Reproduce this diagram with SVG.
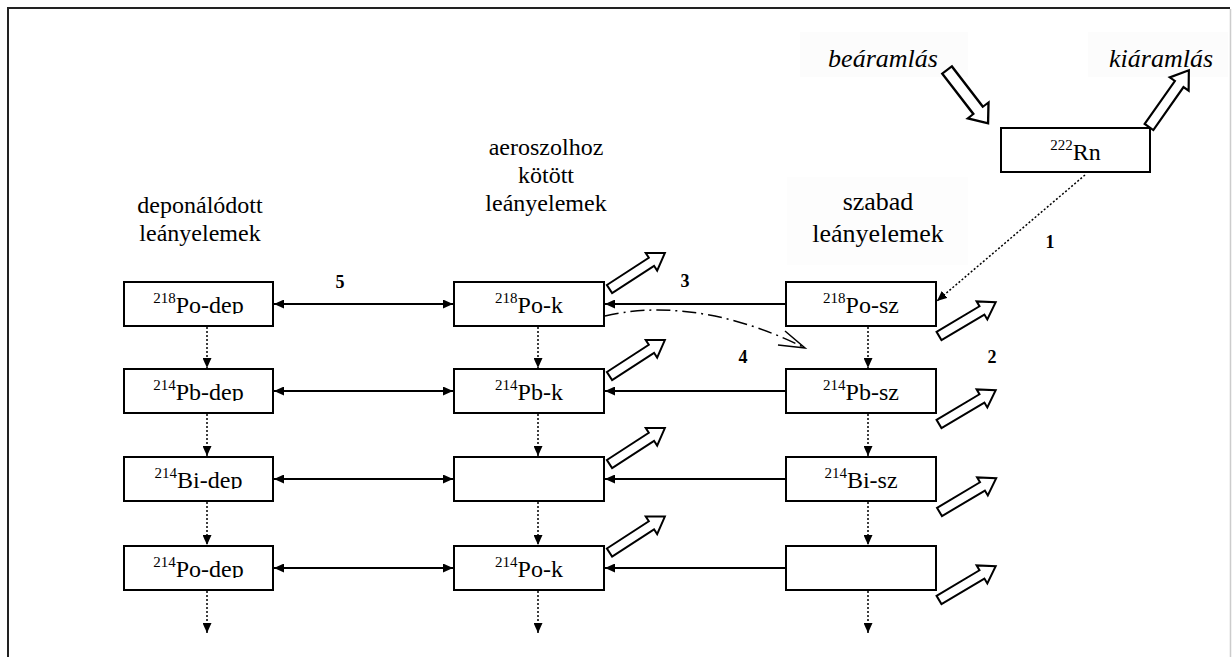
<svg xmlns="http://www.w3.org/2000/svg" width="1232" height="657" viewBox="0 0 1232 657">
<style>
  text{font-family:'Liberation Serif','Times New Roman',Times,serif}
  .box{fill:#fff;stroke:#000;stroke-width:2}
  .t{font-size:24px;fill:#000;text-anchor:middle}
  .sup{font-size:15px}
  .hdr{font-size:24px;fill:#000;text-anchor:middle}
  .it{font-size:26px;font-style:italic;fill:#000;text-anchor:middle}
  .num{font-size:18px;font-weight:bold;fill:#000;text-anchor:middle}
  .h{stroke:#000;stroke-width:2;fill:none}
  .v{stroke:#000;stroke-width:1.5;stroke-dasharray:2,2;fill:none}
  .blk{fill:#fff;stroke:#000;stroke-width:2;stroke-linejoin:miter}
</style>
<defs>
  <marker id="ah" viewBox="0 0 10 9" refX="10" refY="4.5" markerWidth="10" markerHeight="9" markerUnits="userSpaceOnUse" orient="auto-start-reverse">
    <path d="M0,0 L10,4.5 L0,9 Z" fill="#000"/>
  </marker>
  <path id="blk" d="M0,-4.8 L50,-4.8 L50,-10.5 L66,0 L50,10.5 L50,4.8 L0,4.8 Z"/>
  <clipPath id="c1"><rect x="124" y="282" width="149" height="32"/></clipPath>
  <clipPath id="c2"><rect x="124" y="369" width="149" height="32"/></clipPath>
  <clipPath id="c3"><rect x="124" y="457" width="149" height="32"/></clipPath>
  <clipPath id="c4"><rect x="124" y="546" width="149" height="32"/></clipPath>
</defs>

<rect width="1232" height="657" fill="#fff"/>
<!-- frame -->
<path d="M8,657 L8,8 L1230,8" fill="none" stroke="#222" stroke-width="2"/>
<line x1="1230.5" y1="9" x2="1230.5" y2="657" stroke="#ccc" stroke-width="1.5"/>

<!-- faint label backgrounds -->
<rect x="800" y="32" width="168" height="45" fill="#fcfcfc"/>
<rect x="1088" y="32" width="140" height="45" fill="#fcfcfc"/>
<rect x="787" y="177" width="181" height="88" fill="#fdfdfd"/>

<!-- headers -->
<g id="hdr-dep">
  <text class="hdr" x="200" y="213">deponálódott</text>
  <text class="hdr" x="200" y="241">leányelemek</text>
</g>
<g id="hdr-k">
  <text class="hdr" x="546" y="155">aeroszolhoz</text>
  <text class="hdr" x="546" y="183">kötött</text>
  <text class="hdr" x="546" y="211">leányelemek</text>
</g>
<g id="hdr-sz">
  <text class="hdr" x="878" y="210" style="font-size:26px">szabad</text>
  <text class="hdr" x="878" y="242" style="font-size:26px">leányelemek</text>
</g>
<g id="inflow">
  <text class="it" x="883" y="67">beáramlás</text>
  <use href="#blk" class="blk" transform="translate(947,70) rotate(52.4) scale(1.02,1.25)"/>
</g>
<g id="outflow">
  <text class="it" x="1161" y="67">kiáramlás</text>
  <use href="#blk" class="blk" transform="translate(1149,127) rotate(-54.9) scale(1.05,1.1)"/>
</g>

<!-- Rn -->
<g id="rn">
  <rect class="box" x="1001" y="128" width="149" height="44"/>
  <text class="t" x="1075.5" y="160"><tspan class="sup" dy="-10">222</tspan><tspan dy="10">Rn</tspan></text>
</g>

<!-- left column -->
<g id="po218-dep">
  <rect class="box" x="124" y="282" width="149" height="44"/>
  <text class="t" x="198.5" y="313" clip-path="url(#c1)"><tspan class="sup" dy="-10">218</tspan><tspan dy="10">Po-dep</tspan></text>
</g>
<g id="pb214-dep">
  <rect class="box" x="124" y="369" width="149" height="44"/>
  <text class="t" x="198.5" y="400" clip-path="url(#c2)"><tspan class="sup" dy="-10">214</tspan><tspan dy="10">Pb-dep</tspan></text>
</g>
<g id="bi214-dep">
  <rect class="box" x="124" y="457" width="149" height="44"/>
  <text class="t" x="198.5" y="488" clip-path="url(#c3)"><tspan class="sup" dy="-10">214</tspan><tspan dy="10">Bi-dep</tspan></text>
</g>
<g id="po214-dep">
  <rect class="box" x="124" y="546" width="149" height="44"/>
  <text class="t" x="198.5" y="577" clip-path="url(#c4)"><tspan class="sup" dy="-10">214</tspan><tspan dy="10">Po-dep</tspan></text>
</g>

<!-- middle column -->
<g id="po218-k">
  <rect class="box" x="454" y="282" width="150" height="44"/>
  <text class="t" x="529" y="313"><tspan class="sup" dy="-10">218</tspan><tspan dy="10">Po-k</tspan></text>
  <use href="#blk" class="blk" transform="translate(609.5,289) rotate(-33)"/>
</g>
<g id="pb214-k">
  <rect class="box" x="454" y="369" width="150" height="44"/>
  <text class="t" x="529" y="400"><tspan class="sup" dy="-10">214</tspan><tspan dy="10">Pb-k</tspan></text>
  <use href="#blk" class="blk" transform="translate(609.5,376) rotate(-33)"/>
</g>
<g id="bi214-k">
  <rect class="box" x="454" y="457" width="150" height="44"/>
  <use href="#blk" class="blk" transform="translate(609.5,464) rotate(-33)"/>
</g>
<g id="po214-k">
  <rect class="box" x="454" y="546" width="150" height="44"/>
  <text class="t" x="529" y="577"><tspan class="sup" dy="-10">214</tspan><tspan dy="10">Po-k</tspan></text>
  <use href="#blk" class="blk" transform="translate(609.5,552.5) rotate(-33)"/>
</g>

<!-- right column -->
<g id="po218-sz">
  <rect class="box" x="786" y="282" width="150" height="44"/>
  <text class="t" x="861" y="313"><tspan class="sup" dy="-10">218</tspan><tspan dy="10">Po-sz</tspan></text>
  <use href="#blk" class="blk" transform="translate(939,336) rotate(-30.8)"/>
</g>
<g id="pb214-sz">
  <rect class="box" x="786" y="369" width="150" height="44"/>
  <text class="t" x="861" y="400"><tspan class="sup" dy="-10">214</tspan><tspan dy="10">Pb-sz</tspan></text>
  <use href="#blk" class="blk" transform="translate(939,424) rotate(-30.8)"/>
</g>
<g id="bi214-sz">
  <rect class="box" x="786" y="457" width="150" height="44"/>
  <text class="t" x="861" y="488"><tspan class="sup" dy="-10">214</tspan><tspan dy="10">Bi-sz</tspan></text>
  <use href="#blk" class="blk" transform="translate(939.5,512) rotate(-30.8)"/>
</g>
<g id="po214-sz">
  <rect class="box" x="786" y="546" width="150" height="44"/>
  <use href="#blk" class="blk" transform="translate(939,600) rotate(-30.8)"/>
</g>

<!-- connectors -->
<g id="connectors">
  <line class="h" x1="274" y1="304" x2="453" y2="304" marker-start="url(#ah)" marker-end="url(#ah)"/>
  <line class="h" x1="274" y1="391" x2="453" y2="391" marker-start="url(#ah)" marker-end="url(#ah)"/>
  <line class="h" x1="274" y1="479" x2="453" y2="479" marker-start="url(#ah)" marker-end="url(#ah)"/>
  <line class="h" x1="274" y1="568" x2="453" y2="568" marker-start="url(#ah)" marker-end="url(#ah)"/>

  <line class="h" x1="786" y1="304" x2="605" y2="304" marker-end="url(#ah)"/>
  <line class="h" x1="786" y1="391" x2="605" y2="391" marker-end="url(#ah)"/>
  <line class="h" x1="786" y1="479" x2="605" y2="479" marker-end="url(#ah)"/>
  <line class="h" x1="786" y1="568" x2="605" y2="568" marker-end="url(#ah)"/>

  <line class="v" x1="207" y1="327" x2="207" y2="368" marker-end="url(#ah)"/>
  <line class="v" x1="207" y1="414" x2="207" y2="456" marker-end="url(#ah)"/>
  <line class="v" x1="207" y1="502" x2="207" y2="545" marker-end="url(#ah)"/>
  <line class="v" x1="207" y1="591" x2="207" y2="633" marker-end="url(#ah)"/>

  <line class="v" x1="538" y1="327" x2="538" y2="368" marker-end="url(#ah)"/>
  <line class="v" x1="538" y1="414" x2="538" y2="456" marker-end="url(#ah)"/>
  <line class="v" x1="538" y1="502" x2="538" y2="545" marker-end="url(#ah)"/>
  <line class="v" x1="538" y1="591" x2="538" y2="633" marker-end="url(#ah)"/>

  <line class="v" x1="868" y1="327" x2="868" y2="368" marker-end="url(#ah)"/>
  <line class="v" x1="868" y1="414" x2="868" y2="456" marker-end="url(#ah)"/>
  <line class="v" x1="868" y1="502" x2="868" y2="545" marker-end="url(#ah)"/>
  <line class="v" x1="868" y1="591" x2="868" y2="633" marker-end="url(#ah)"/>

  <line x1="1085" y1="175" x2="937" y2="301" stroke="#000" stroke-width="1.5" stroke-dasharray="2,2" marker-end="url(#ah)"/>

  <path d="M605,316 C650,305 720,306 803,347" fill="none" stroke="#000" stroke-width="1.5" stroke-dasharray="14,5,2,5"/>
  <path d="M785,331 L805,348 L778,345" fill="none" stroke="#000" stroke-width="1.5"/>
</g>

<!-- numeric labels -->
<text class="num" x="1050" y="248">1</text>
<text class="num" x="992" y="363">2</text>
<text class="num" x="685" y="287">3</text>
<text class="num" x="743" y="363">4</text>
<text class="num" x="340" y="288">5</text>
</svg>
